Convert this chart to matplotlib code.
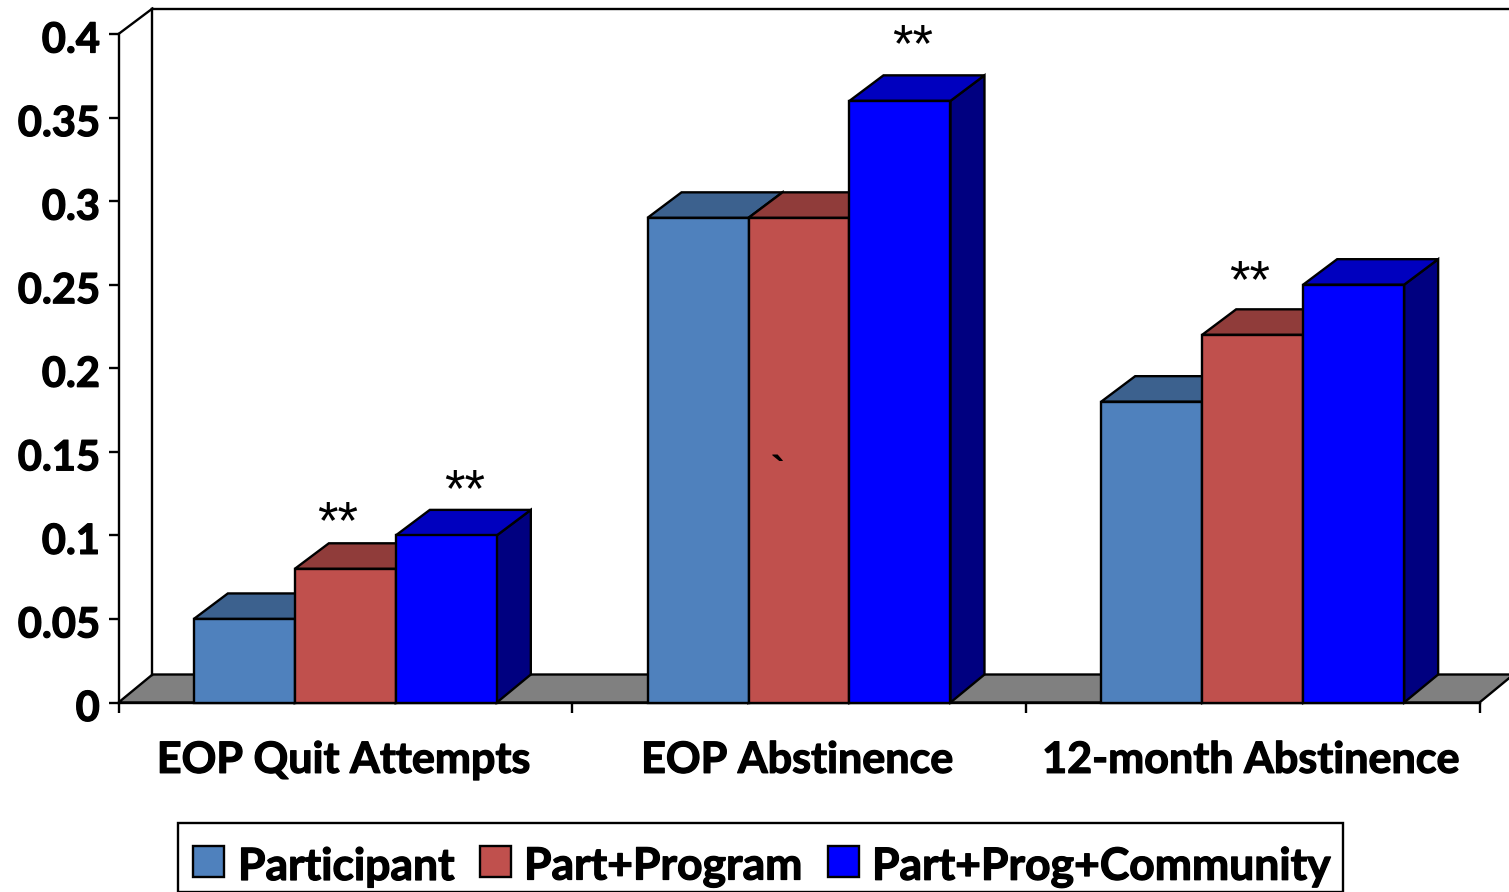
import matplotlib
matplotlib.use("Agg")
import matplotlib.pyplot as plt
import matplotlib.patheffects as pe
from matplotlib.patches import Polygon, Rectangle
from matplotlib.transforms import ScaledTranslation

# values
categorias = ["EOP Quit Attempts", "EOP Abstinence", "12-month Abstinence"]
series = ["Participant", "Part+Program", "Part+Prog+Community"]
participant = [0.05, 0.29, 0.18]
part_program = [0.08, 0.29, 0.22]
part_prog_comm = [0.10, 0.36, 0.25]
yticks = [0, 0.05, 0.1, 0.15, 0.2, 0.25, 0.3, 0.35, 0.4]
ylabels = ["0", "0.05", "0.1", "0.15", "0.2", "0.25", "0.3", "0.35", "0.4"]
# marcas sobre las barras: (x en categorias, y en valor, texto)
marcas = [(0.484, 0.1069, "**"), (0.764, 0.1259, "**"), (1.75, 0.3919, "**"), (2.494, 0.2509, "**")]

W, H = 1509, 892
FONT = "Lato"
ANCHO = 0.2226   # ancho de barra en unidades de categoria
DX = 34 / 453.7  # profundidad en x
DY = 25.5 * 0.4 / 668.5  # profundidad arriba
DY_BASE = 28 * 0.4 / 668.5  # profundidad del suelo
LW = 1.7
grueso = [pe.withStroke(linewidth=0.9, foreground="black")]  # el texto original es mas negro

colores = [("#4F81BD", "#3C618E", "#2F4C70"),
           ("#C0504D", "#903C3A", "#70302D"),
           ("#0000FF", "#0000BF", "#000080")]

fig = plt.figure(figsize=(W / 100, H / 100), dpi=100)
ax = fig.add_axes([118.5 / W, (H - 702.5) / H, 1361 / W, 668.5 / H])
ax.set_xlim(0, 3)
ax.set_ylim(0, 0.4)
ax.patch.set_visible(False)

# suelo gris y paredes
ax.add_patch(Polygon([(0, 0), (DX, DY_BASE), (3 + DX, DY_BASE), (3, 0)], closed=True,
                     facecolor="#808080", edgecolor="black", lw=LW,
                     clip_on=False, zorder=1))
ax.plot([DX, DX], [DY_BASE, 0.4 + DY], color="black", lw=LW, clip_on=False, zorder=1)
ax.plot([DX, 3 + DX], [0.4 + DY, 0.4 + DY], color="black", lw=LW, clip_on=False, zorder=1)
ax.plot([0, DX], [0.4, 0.4 + DY], color="black", lw=LW, clip_on=False, zorder=1)

valores = [participant, part_program, part_prog_comm]
for j, vals in enumerate(valores):
    frente, arriba, lado = colores[j]
    for i, v in enumerate(vals):
        x0 = i + 0.5 + (j - 1.5) * ANCHO
        x1 = x0 + ANCHO
        z = 3 + i * 3 + j
        ax.add_patch(Polygon([(x1, 0), (x1 + DX, DY_BASE), (x1 + DX, v + DY), (x1, v)], closed=True,
                             facecolor=lado, edgecolor="black", lw=LW, clip_on=False, zorder=z))
        ax.add_patch(Polygon([(x0, v), (x0 + DX, v + DY), (x1 + DX, v + DY), (x1, v)], closed=True,
                             facecolor=arriba, edgecolor="black", lw=LW, clip_on=False, zorder=z))
        ax.bar(x0, v, width=ANCHO, align="edge", color=frente, edgecolor="black",
               linewidth=LW, clip_on=False, zorder=z + 0.5)

for xm, ym, txt in marcas:
    ax.text(xm, ym, txt, ha="center", va="center", fontsize=38,
            family="Liberation Sans", color="black", zorder=30)

# la marca suelta de la barra central
ax.text(1.453, 0.136, "`", ha="center", va="center", fontsize=30, fontweight="bold",
        family="Liberation Sans", color="black", zorder=30)

for s in ["top", "right"]:
    ax.spines[s].set_visible(False)
for s in ["left", "bottom"]:
    ax.spines[s].set_linewidth(LW)
    ax.spines[s].set_zorder(2)

ax.set_yticks(yticks)
ax.set_yticklabels(ylabels, fontsize=30, fontweight="bold", family=FONT, path_effects=grueso)
ax.set_xticks([0, 1, 2, 3])
ax.set_xticklabels([])
ax.tick_params(axis="both", direction="out", length=7.5, width=LW, pad=6)
# las etiquetas del eje y van un poco por debajo de su marca
for lab in ax.get_yticklabels():
    lab.set_transform(lab.get_transform() + ScaledTranslation(0, -3 / 100, fig.dpi_scale_trans))
for i, c in enumerate(categorias):
    ax.text(i + 0.496, -0.0343, c, ha="center", va="center", fontsize=31,
            fontweight="bold", family=FONT, color="black", path_effects=grueso)

# leyenda a mano para dejar la caja como en la figura
fig.add_artist(Rectangle((178 / W, 0), 1165 / W, (H - 823) / H, transform=fig.transFigure,
                         facecolor="white", edgecolor="black", lw=LW))
leg_x = [193, 480, 828]
txt_x = [238, 524, 872]
for k, s in enumerate(series):
    fig.add_artist(Rectangle((leg_x[k] / W, (H - 877) / H), 31 / W, 31 / H,
                             transform=fig.transFigure, facecolor=colores[k][0],
                             edgecolor="black", lw=LW))
    fig.text(txt_x[k] / W, (H - 867) / H, s, ha="left", va="center", fontsize=32,
             fontweight="bold", family=FONT, color="black", path_effects=grueso)

fig.savefig("out.png", dpi=100)
